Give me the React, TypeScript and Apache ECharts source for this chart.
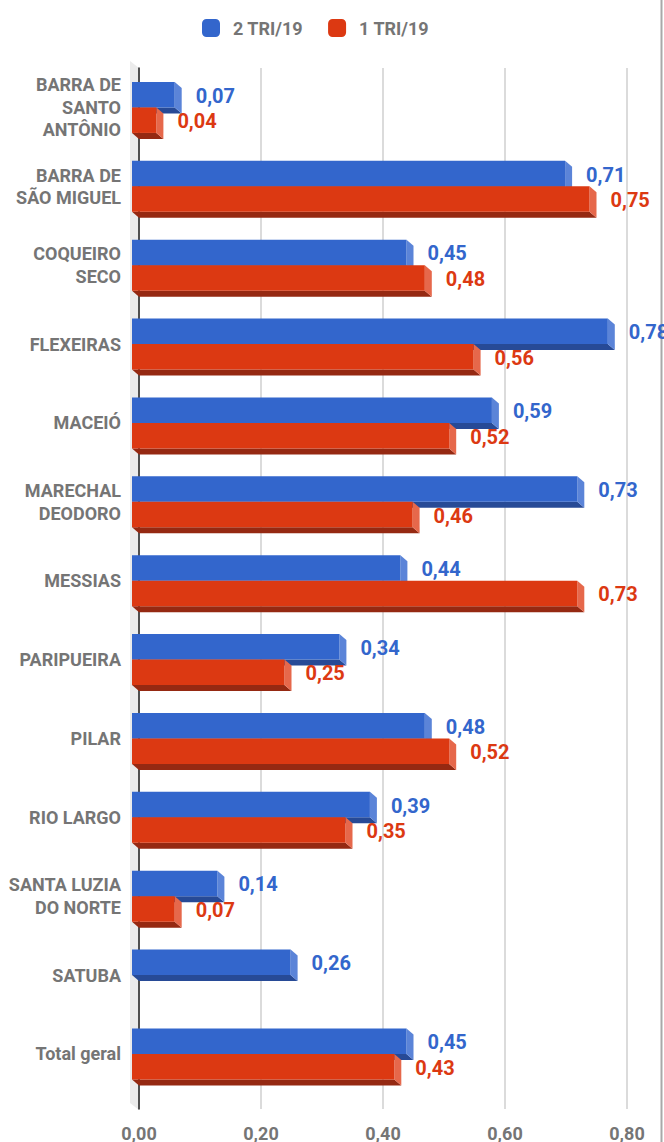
import React, { useEffect, useRef } from 'react';
import * as echarts from 'echarts';

const categories = [
  'BARRA DE\nSANTO\nANTÔNIO',
  'BARRA DE\nSÃO MIGUEL',
  'COQUEIRO\nSECO',
  'FLEXEIRAS',
  'MACEIÓ',
  'MARECHAL\nDEODORO',
  'MESSIAS',
  'PARIPUEIRA',
  'PILAR',
  'RIO LARGO',
  'SANTA LUZIA\nDO NORTE',
  'SATUBA',
  'Total geral',
];
const seriesNames = ['2 TRI/19', '1 TRI/19'];
const tri2 = [0.07, 0.71, 0.45, 0.78, 0.59, 0.73, 0.44, 0.34, 0.48, 0.39, 0.14, 0.26, 0.45];
const tri1: (number | null)[] = [0.04, 0.75, 0.48, 0.56, 0.52, 0.46, 0.73, 0.25, 0.52, 0.35, 0.07, null, 0.43];
const axisMin = 0;
const axisMax = 0.8;
const axisStep = 0.2;

const palette = [
  { front: '#3366cc', side: '#5b84d8', bottom: '#274a96' },
  { front: '#dc3912', side: '#e6684b', bottom: '#952912' },
];

const fmt = (v: number) => v.toFixed(2).replace('.', ',');
const DX = 7;
const DY = 6;
const BH = 25.5;
const FONT = 'Roboto, "Noto Sans", sans-serif';

function makeRender(pos: number) {
  const c = palette[pos];
  return (params: any, api: any) => {
    const v = api.value(0);
    const cat = api.value(1);
    if (v == null || isNaN(v)) return null;
    const p0 = api.coord([0, cat]);
    const p1 = api.coord([v, cat]);
    const cy = p0[1];
    const top = pos === 0 ? cy - BH : cy;
    const bot = top + BH;
    const left = p0[0] - DX;
    const right = p1[0] - DX;
    return {
      type: 'group',
      children: [
        {
          type: 'polygon',
          shape: { points: [[left, bot], [right, bot], [right + DX, bot + DY], [left + DX, bot + DY]] },
          style: { fill: c.bottom },
        },
        {
          type: 'polygon',
          shape: { points: [[right, top], [right + DX, top + DY], [right + DX, bot + DY], [right, bot]] },
          style: { fill: c.side },
        },
        {
          type: 'rect',
          shape: { x: left, y: top, width: right - left, height: BH },
          style: { fill: c.front },
        },
        {
          type: 'text',
          x: p1[0] + 14,
          y: top + BH / 2 + 1,
          style: {
            text: fmt(v),
            fill: c.front,
            fontSize: 20,
            fontWeight: 'bold',
            fontFamily: FONT,
            align: 'left',
            verticalAlign: 'middle',
          },
        },
      ],
    };
  };
}

export default function App() {
  const ref = useRef<HTMLDivElement>(null);
  useEffect(() => {
    if (!ref.current) return;
    const chart = echarts.init(ref.current, undefined, { renderer: 'svg' });
    const d2 = tri2.map((v, i) => [v, i]);
    const d1 = tri1.map((v, i) => [v, i]).filter((d) => d[0] != null);
    chart.setOption({
      animation: false,
      backgroundColor: '#ffffff',
      color: [palette[0].front, palette[1].front],
      textStyle: { fontFamily: FONT },
      legend: {
        left: 197,
        top: 14,
        itemWidth: 18,
        itemHeight: 18,
        itemGap: 25,
        icon: 'roundRect',
        data: seriesNames,
        textStyle: { fontSize: 18, fontWeight: 'bold', color: '#757575', fontFamily: FONT, padding: [0, 0, 0, 8] },
      },
      graphic: [
        {
          type: 'polygon',
          z: -10,
          silent: true,
          shape: { points: [[130, 61], [139, 68], [139, 1110], [130, 1103]] },
          style: { fill: '#ebebeb' },
        },
        {
          type: 'line',
          z: -10,
          silent: true,
          shape: { x1: 661.5, y1: 0, x2: 661.5, y2: 1142 },
          style: { stroke: '#a8a8a8', lineWidth: 2 },
        },
      ],
      grid: [
        { left: 139, right: 37, top: 68, bottom: 48.6 },
        { left: 139, right: 37, top: 68, bottom: 32 },
      ],
      xAxis: [
        { type: 'value', gridIndex: 0, min: axisMin, max: axisMax, interval: axisStep, show: false },
        {
          type: 'value',
          gridIndex: 1,
          min: axisMin,
          max: axisMax,
          interval: axisStep,
          axisLine: { show: false },
          axisTick: { show: false },
          splitLine: { show: true, lineStyle: { color: '#cfcfcf', width: 1.5 } },
          axisLabel: {
            formatter: (v: number) => fmt(v),
            fontSize: 18,
            fontWeight: 'bold',
            color: '#757575',
            fontFamily: FONT,
            margin: 15,
          },
        },
      ],
      yAxis: [
        {
          type: 'category',
          gridIndex: 0,
          data: categories,
          inverse: true,
          axisLine: { show: false },
          axisTick: { show: false },
          splitLine: { show: false },
          axisLabel: {
            fontSize: 18,
            fontWeight: 'bold',
            color: '#757575',
            fontFamily: FONT,
            lineHeight: 22.5,
            margin: 18,
            align: 'right',
          },
        },
        {
          type: 'value',
          gridIndex: 1,
          axisLine: { show: true, lineStyle: { color: '#222222', width: 1.5 } },
          axisTick: { show: false },
          axisLabel: { show: false },
          splitLine: { show: false },
        },
      ],
      series: [
        {
          name: seriesNames[0],
          type: 'custom',
          xAxisIndex: 0,
          yAxisIndex: 0,
          encode: { x: 0, y: 1 },
          itemStyle: { color: palette[0].front },
          renderItem: makeRender(0),
          data: d2,
          z: 3,
        },
        {
          name: seriesNames[1],
          type: 'custom',
          xAxisIndex: 0,
          yAxisIndex: 0,
          encode: { x: 0, y: 1 },
          itemStyle: { color: palette[1].front },
          renderItem: makeRender(1),
          data: d1,
          z: 4,
        },
      ],
    });
    return () => chart.dispose();
  }, []);
  return (
    <div
      ref={ref}
      style={{ position: 'absolute', left: 0, top: 0, width: 664, height: 1142 }}
    />
  );
}
